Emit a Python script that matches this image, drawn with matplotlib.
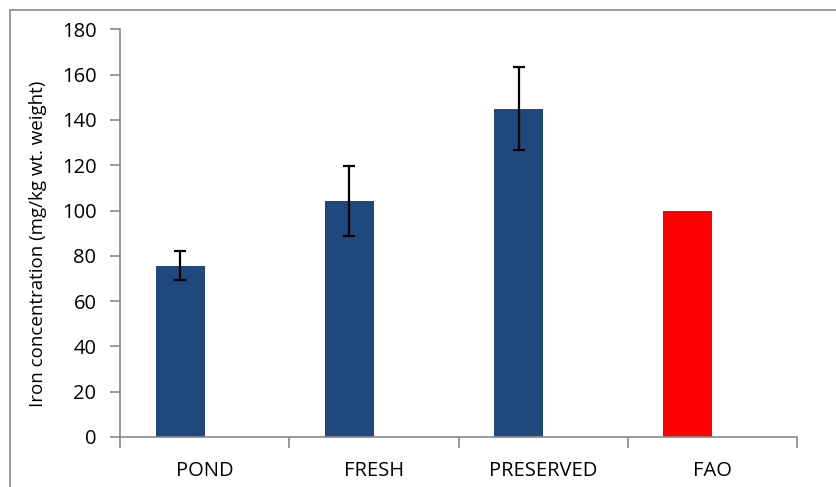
import numpy as np
import matplotlib.pyplot as plt
from matplotlib.patches import Rectangle

# Iron concentration per sample group
categories = ['POND', 'FRESH', 'PRESERVED', 'FAO']
iron = [75.7, 104.3, 145.0, 100.0]
iron_err = [6.6, 15.5, 18.5, 0.0]
colors = ['#1F497D', '#1F497D', '#1F497D', '#FF0000']

plt.rcParams['font.family'] = ['Open Sans', 'DejaVu Sans']

fig = plt.figure(figsize=(8.36, 4.87), dpi=100)
ax = fig.add_axes([120 / 836, 1 - 437 / 487, (797 - 120) / 836, (437 - 29.3) / 487])

x = np.arange(len(categories))
bar_w = 0.29
# bars sit just left of each category centre
ax.bar(x - bar_w, iron, width=bar_w, align='edge', color=colors, zorder=2)
yerr = [e if e > 0 else np.nan for e in iron_err]
ax.errorbar(x - bar_w / 2, iron, yerr=yerr, fmt='none', ecolor='black',
            elinewidth=1.6, capsize=4, capthick=1.6, zorder=3)

ax.set_xlim(-0.5, 3.5)
ax.set_ylim(0, 180)
ax.set_yticks(np.arange(0, 181, 20))

# category labels centred, tick marks on the boundaries
ax.set_xticks(x)
ax.set_xticklabels(categories)
ax.set_xticks(np.arange(-0.5, 3.6, 1), minor=True)
ax.tick_params(axis='x', which='major', length=0, pad=17, labelsize=14.5)
ax.tick_params(axis='x', which='minor', length=8, width=1.2, color='#888888')
ax.tick_params(axis='y', length=7, width=1.2, color='#888888', labelsize=14.5, pad=10)

for side in ['top', 'right']:
    ax.spines[side].set_visible(False)
for side in ['left', 'bottom']:
    ax.spines[side].set_color('#888888')
    ax.spines[side].set_linewidth(1.2)

ax.set_ylabel('Iron concentration (mg/kg wt. weight)', fontsize=13.5)
ax.yaxis.set_label_coords(38 / 836, 0.5, transform=fig.transFigure)
ax.yaxis.label.set_y(0.5)
ax.yaxis.label.set_verticalalignment('center')

# chart area frame
fig.patches.append(Rectangle((10 / 836, -0.1), 1.2, 1 - 10 / 487 + 0.1,
                             transform=fig.transFigure, fill=False,
                             edgecolor='#888888', linewidth=1.2))

fig.savefig('out.png', dpi=100)
